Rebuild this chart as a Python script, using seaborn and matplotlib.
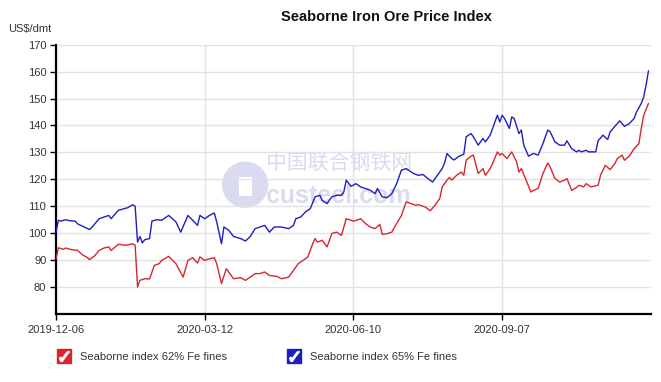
import pandas as pd
import seaborn as sns
import matplotlib.pyplot as plt
from matplotlib.lines import Line2D
from matplotlib.patches import Ellipse, Rectangle

# trading-day index and index values
day_62 = [0, 1, 3, 4, 6, 9, 11, 13, 14, 16, 18, 20, 22, 23, 26, 29, 32, 33, 34, 35,
          37, 39, 41, 43, 44, 47, 50, 53, 55, 57, 59, 60, 62, 64, 66, 67, 69, 71, 72, 74,
          77, 79, 81, 83, 85, 87, 89, 92, 94, 97, 99, 101, 103, 105, 107, 108, 109, 111, 113, 115,
          117, 119, 121, 124, 126, 127, 129, 131, 133, 135, 136, 138, 140, 142, 144, 146, 148, 150, 151, 154,
          156, 158, 160, 161, 163, 164, 165, 167, 169, 170, 171, 173, 174, 176, 178, 179, 181, 182, 184, 185,
          186, 188, 190, 192, 193, 194, 196, 198, 199, 201, 203, 205, 206, 208, 210, 212, 213, 215, 217, 218,
          220, 221, 223, 226, 227, 229, 231, 233, 234, 236, 237, 239, 241, 243, 244, 245, 247]
fe62 = [90.5, 94.6, 94.0, 94.5, 94.0, 93.6, 92.0, 91.0, 90.2, 91.5, 93.6, 94.5, 94.9, 93.6, 95.9, 95.5, 96.1, 95.5, 80.0, 82.5,
        83.1, 83.0, 88.0, 88.7, 89.9, 91.4, 88.7, 83.7, 89.9, 90.9, 88.9, 91.2, 89.9, 90.5, 90.9, 88.7, 81.3, 86.8, 85.6, 83.1,
        83.5, 82.5, 83.7, 85.0, 85.0, 85.6, 84.3, 84.0, 83.1, 83.7, 86.2, 88.7, 89.9, 91.2, 96.1, 98.0, 96.7, 97.4, 94.9, 99.9,
        100.4, 99.2, 105.4, 104.5, 105.0, 105.4, 103.6, 102.3, 101.7, 103.3, 99.6, 99.8, 100.4, 103.6, 106.6, 111.6, 111.0, 110.4, 110.6, 109.7,
        108.3, 110.4, 112.9, 117.2, 119.7, 120.7, 119.7, 121.5, 122.7, 121.5, 127.1, 128.6, 129.0, 122.2, 124.0, 121.5, 124.0, 125.9, 130.2, 129.0,
        129.6, 127.7, 130.2, 126.5, 122.7, 124.0, 119.7, 115.3, 115.9, 116.6, 122.2, 126.1, 124.6, 120.3, 119.0, 119.7, 120.3, 115.9, 117.0, 117.8,
        117.2, 118.4, 117.2, 117.8, 121.5, 125.2, 123.6, 125.9, 127.7, 129.0, 127.1, 128.6, 131.4, 133.3, 138.9, 143.8, 148.2]

day_65 = [0, 1, 2, 4, 6, 8, 9, 11, 14, 15, 18, 20, 22, 23, 26, 30, 32, 33, 34, 35,
          36, 37, 39, 40, 42, 44, 47, 50, 52, 55, 57, 59, 60, 62, 64, 66, 67, 69, 70, 72,
          74, 77, 79, 81, 83, 85, 87, 89, 91, 94, 97, 99, 100, 102, 104, 106, 108, 110, 111, 113,
          115, 117, 119, 120, 121, 123, 125, 127, 129, 131, 133, 134, 136, 138, 140, 142, 143, 144, 146, 149,
          151, 153, 155, 157, 159, 161, 162, 163, 165, 166, 168, 170, 171, 173, 174, 176, 178, 179, 181, 182,
          184, 185, 186, 187, 189, 190, 191, 193, 194, 195, 197, 199, 201, 203, 205, 206, 208, 210, 212, 213,
          215, 217, 218, 219, 221, 222, 225, 226, 228, 230, 231, 233, 235, 237, 239, 241, 242, 244, 245, 246, 247]
fe65 = [100.4, 104.8, 104.5, 105.0, 104.6, 104.5, 103.5, 102.6, 101.4, 102.2, 105.4, 106.0, 106.6, 105.4, 108.5, 109.5, 110.6, 110.0, 96.7, 98.8,
        96.4, 97.6, 98.0, 104.5, 105.0, 104.8, 106.6, 104.2, 100.4, 106.6, 104.8, 102.9, 106.6, 105.4, 106.6, 107.5, 104.2, 96.1, 102.3, 101.1,
        98.8, 98.0, 97.1, 98.8, 101.7, 102.3, 102.9, 100.4, 102.3, 102.3, 101.7, 102.9, 105.4, 106.0, 107.9, 109.1, 113.5, 114.1, 112.2, 111.0,
        113.5, 114.1, 114.1, 115.3, 119.7, 117.4, 118.4, 117.2, 116.6, 116.0, 114.7, 116.6, 113.5, 113.2, 114.7, 118.4, 120.9, 123.4, 124.0, 122.2,
        121.5, 121.8, 120.3, 119.0, 121.5, 124.0, 126.1, 129.6, 127.7, 127.2, 128.6, 129.3, 135.8, 137.0, 135.8, 132.7, 135.2, 133.9, 136.4, 138.9,
        143.8, 141.3, 143.8, 142.6, 138.9, 143.2, 142.6, 137.0, 138.3, 132.7, 128.6, 129.6, 129.0, 133.3, 138.3, 137.7, 133.9, 132.7, 132.7, 134.3,
        131.4, 130.2, 130.8, 130.2, 130.8, 130.2, 130.2, 134.3, 136.4, 134.8, 137.6, 139.7, 141.7, 139.7, 140.7, 142.6, 145.0, 148.2, 150.6, 155.0, 160.3]

tick_days = [0, 62, 124, 186]
tick_labels = ["2019-12-06", "2020-03-12", "2020-06-10", "2020-09-07"]
series_names = ["Seaborne index 62% Fe fines", "Seaborne index 65% Fe fines"]
colors = ["#d8262e", "#1f1fc0"]

df = pd.concat([
    pd.DataFrame({"day": day_62, "price": fe62, "series": series_names[0]}),
    pd.DataFrame({"day": day_65, "price": fe65, "series": series_names[1]}),
])

sns.set_style("white")
plt.rcParams["font.family"] = ["Liberation Sans", "Noto Sans CJK SC", "DejaVu Sans"]

fig = plt.figure(figsize=(6.61, 3.82), dpi=100)
ax = fig.add_axes([0.0847, 0.178, 0.900, 0.705])

# faint site watermark
wm = "#dadaf0"
ax.add_patch(Ellipse((0.318, 0.48), 0.078, 0.172, transform=ax.transAxes,
                     color=wm, ec="none", zorder=0))
ax.add_patch(Rectangle((0.308, 0.44), 0.022, 0.07, transform=ax.transAxes,
                       color="white", ec="none", zorder=0))
ax.text(0.475, 0.56, "中国联合钢铁网", transform=ax.transAxes, ha="center", va="center",
        fontsize=15, color=wm, zorder=0)
ax.text(0.475, 0.44, "custeel.com", transform=ax.transAxes, ha="center", va="center",
        fontsize=18, fontweight="bold", color=wm, zorder=0)

sns.lineplot(data=df, x="day", y="price", hue="series", palette=colors,
             linewidth=1.0, legend=False, ax=ax, zorder=3)

ax.set_xlim(0, 248)
ax.set_ylim(70, 170)
ax.set_yticks(range(80, 171, 10))
ax.set_xticks(tick_days)
ax.set_xticklabels(tick_labels)
ax.set_xlabel("")
ax.set_ylabel("")

ax.grid(True, color="#e2e2e2", linewidth=1.0)
ax.set_axisbelow(True)
for s in ["top", "right"]:
    ax.spines[s].set_visible(False)
for s in ["left", "bottom"]:
    ax.spines[s].set_color("black")
    ax.spines[s].set_linewidth(1.6)
ax.tick_params(axis="both", colors="#333333", labelsize=8, length=4, width=1,
               direction="out", left=True, bottom=True, pad=3)
ax.tick_params(axis="both", color="black")
ax.tick_params(axis="x", pad=4)

fig.text(0.584, 0.955, "Seaborne Iron Ore Price Index", ha="center", va="center",
         fontsize=10.5, fontweight="bold", color="#111111")
fig.text(0.012, 0.925, "US$/dmt", ha="left", va="center", fontsize=8, color="#333333")

handles = []
for c in colors:
    box = Line2D([], [], marker="s", linestyle="none", markersize=10,
                 markerfacecolor=c, markeredgecolor=c)
    tick = Line2D([], [], marker=r"$\checkmark$", linestyle="none", markersize=7,
                  markerfacecolor="white", markeredgecolor="white")
    handles.append((box, tick))
fig.legend(handles, series_names, loc="center left", bbox_to_anchor=(0.065, 0.065),
           ncol=2, frameon=False, fontsize=8, columnspacing=5.1, handletextpad=0.4,
           labelcolor="#333333")

fig.savefig("out.png", dpi=100)
